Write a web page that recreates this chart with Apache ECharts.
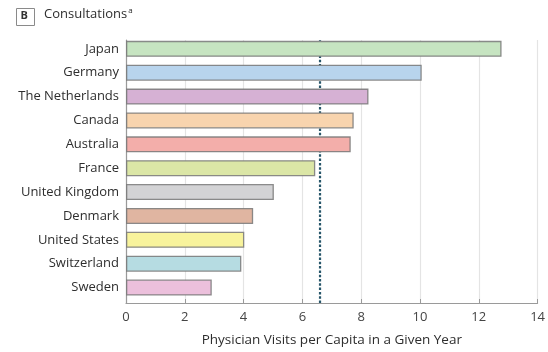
<!DOCTYPE html>
<html>
<head>
<meta charset="utf-8">
<script src="https://cdn.jsdelivr.net/npm/echarts@6/dist/echarts.min.js"></script>
<style>
  html, body { margin: 0; padding: 0; background: #fff; }
  #chart { width: 548px; height: 352px; }
</style>
</head>
<body>
<div id="chart"></div>
<script>
// Physician consultations per capita, by country
var countries = ['Japan', 'Germany', 'The Netherlands', 'Canada', 'Australia', 'France',
  'United Kingdom', 'Denmark', 'United States', 'Switzerland', 'Sweden'];
var visits = [12.7, 10.0, 8.2, 7.7, 7.6, 6.4, 5.0, 4.3, 4.0, 3.9, 2.9];
var barColors = ['#c6e4c1', '#b8d4ed', '#d6b1d4', '#f8d4ae', '#f3aeaa', '#dbe6a6',
  '#d3d3d5', '#e0b5a1', '#f8f39c', '#b6dce2', '#ecc0dc'];
var meanVisits = 6.6;
var xTicks = [0, 2, 4, 6, 8, 10, 12, 14];

var FONT = '"Open Sans", "Noto Sans", sans-serif';
var TEXT = '#2e2e2e';
var chart = echarts.init(document.getElementById('chart'), null, { renderer: 'canvas' });

var option = {
  animation: false,
  backgroundColor: '#ffffff',
  textStyle: { fontFamily: FONT },
  graphic: [
    { type: 'rect', left: 16, top: 8, shape: { width: 18, height: 17 },
      style: { fill: '#fff', stroke: '#8a8a8a', lineWidth: 1 } },
    { type: 'text', left: 20.5, top: 10.5,
      style: { text: 'B', font: 'bold 11px ' + FONT, fill: '#333' } },
    { type: 'text', left: 44, top: 7,
      style: {
        text: 'Consultations{sup|a}',
        font: '13px ' + FONT, fill: TEXT,
        rich: { sup: { fontSize: 8, verticalAlign: 'top', padding: [0, 0, 6, 1], fill: TEXT, fontFamily: FONT } }
      } }
  ],
  grid: [
    // frame: value axis, split lines, left axis line and the mean line
    { left: 126, right: 8, top: 40, bottom: 44 },
    // bars with their country labels
    { left: 126, right: 8, top: 36.9, bottom: 52.5 }
  ],
  xAxis: [
    {
      gridIndex: 0, type: 'value', min: 0, max: 14, interval: 2,
      axisLine: { show: true, lineStyle: { color: '#9a9a9a', width: 1.2 } },
      axisTick: { show: true, inside: true, length: 4, lineStyle: { color: '#9a9a9a' } },
      axisLabel: { color: '#444', fontSize: 13, margin: 8, fontFamily: FONT,
        customValues: xTicks },
      splitLine: { show: true, lineStyle: { color: '#e4e4e4', width: 1.2 } },
      name: 'Physician Visits per Capita in a Given Year',
      nameLocation: 'middle', nameGap: 30,
      nameTextStyle: { color: TEXT, fontSize: 13.5, fontFamily: FONT }
    },
    {
      gridIndex: 1, type: 'value', min: 0, max: 14, interval: 2, show: false,
      splitLine: { show: false }
    }
  ],
  yAxis: [
    {
      gridIndex: 0, type: 'value', min: 0, max: 1,
      axisLine: { show: true, lineStyle: { color: '#9a9a9a', width: 1.2 } },
      axisTick: { show: false }, axisLabel: { show: false }, splitLine: { show: false }
    },
    {
      gridIndex: 1, type: 'category', inverse: true, data: countries,
      axisLine: { show: false }, axisTick: { show: false }, splitLine: { show: false },
      axisLabel: { color: TEXT, fontSize: 13, margin: 7, fontFamily: FONT }
    }
  ],
  series: [
    {
      type: 'line', xAxisIndex: 0, yAxisIndex: 0, z: 1,
      symbol: 'none', silent: true,
      data: [[meanVisits, 0], [meanVisits, 1]],
      lineStyle: { color: '#27566a', width: 2.2, type: [2.5, 1.8] }
    },
    {
      type: 'bar', xAxisIndex: 1, yAxisIndex: 1, z: 3,
      barWidth: 16,
      data: visits.map(function (v, i) {
        return {
          value: v,
          itemStyle: { color: barColors[i], borderColor: 'rgba(120,120,120,0.85)', borderWidth: 1.3 }
        };
      })
    }
  ]
};

chart.setOption(option);
</script>
</body>
</html>
